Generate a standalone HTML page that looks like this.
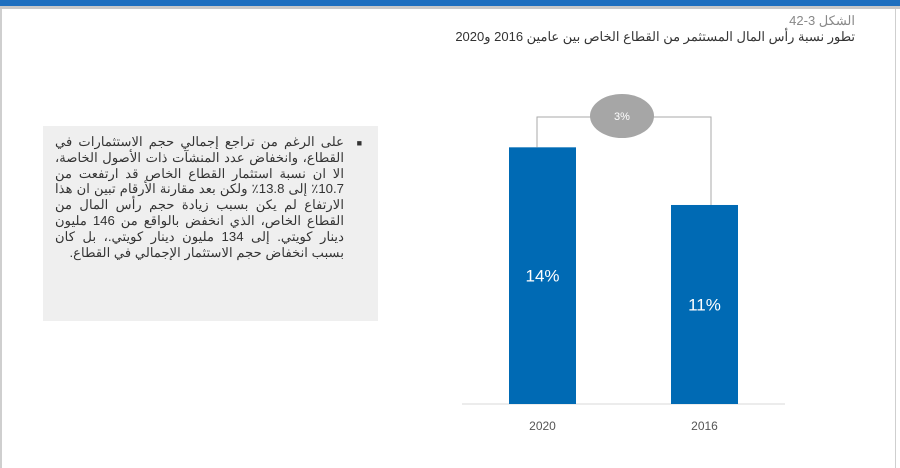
<!DOCTYPE html>
<html><head><meta charset="utf-8"><style>
body{margin:0;width:900px;height:468px;background:#fff;overflow:hidden;position:relative;font-family:"Liberation Sans","Noto Sans CJK SC",sans-serif}
.abs{position:absolute}
</style></head><body>
<div class="abs" style="left:0;top:0;width:900px;height:6px;background:#1e6fbf;border-bottom:3px solid #c8c8c8"></div>
<div class="abs" style="left:0;top:9px;width:2px;height:459px;background:#cfcfcf"></div>
<div class="abs" style="left:895px;top:9px;width:1px;height:459px;background:#cfcfcf"></div>
<div class="abs" dir="rtl" style="right:45px;top:13px;font-size:13px;color:#888">الشكل 3-42</div>
<div class="abs" dir="rtl" style="right:45px;top:29px;font-size:13px;color:#333">تطور نسبة رأس المال المستثمر من القطاع الخاص بين عامين 2016 و2020</div>
<div class="abs" dir="rtl" style="left:43px;top:126px;width:335px;height:195px;background:#efefef;box-sizing:border-box;padding:8px 14px 0 12px;font-size:13.2px;line-height:15.8px;color:#333;text-align:justify">
<span style="position:absolute;right:16px;top:10px;font-size:9px">■</span>
<div style="margin-right:20px">على الرغم من تراجع إجمالي حجم الاستثمارات في القطاع، وانخفاض عدد المنشآت ذات الأصول الخاصة، الا ان نسبة استثمار القطاع الخاص قد ارتفعت من 10.7٪ إلى 13.8٪ ولكن بعد مقارنة الأرقام تبين ان هذا الارتفاع لم يكن بسبب زيادة حجم رأس المال من القطاع الخاص، الذي انخفض بالواقع من 146 مليون دينار كويتي. إلى 134 مليون دينار كويتي.، بل كان بسبب انخفاض حجم الاستثمار الإجمالي في القطاع.</div>
</div>
<svg class="abs" style="left:0;top:0" width="900" height="468" id="chart"></svg>
<script>
const categories=["2020","2016"];
const values=[13.8,10.7];
const labels=["14%","11%"];
const changeLabel="3%";
const svg=document.getElementById('chart');
const NS='http://www.w3.org/2000/svg';
const baseY=404, pxPerUnit=18.6;
const y=v=>baseY-v*pxPerUnit;
const barX=i=>509+i*162, barW=67;
function mk(t,a){const e=document.createElementNS(NS,t);for(const k in a)e.setAttribute(k,a[k]);svg.appendChild(e);return e;}
const ax=mk('line',{x1:462,x2:785,y1:baseY,y2:baseY,stroke:'#d8d8d8','stroke-width':1});


const tops=[];
values.forEach((v,i)=>{
 const r=mk('rect',{x:barX(i),y:y(v),width:barW,height:baseY-y(v),fill:'#006ab4'});
 
 
 tops.push(y(v));
 const t=mk('text',{x:barX(i)+barW/2,y:(y(v)+baseY)/2+6,'text-anchor':'middle',fill:'#fff','font-size':17,'font-family':'Liberation Sans'});
 t.textContent=labels[i];
 
 
 const c=mk('text',{x:barX(i)+barW/2,y:430,'text-anchor':'middle',fill:'#555','font-size':12,'font-family':'Liberation Sans'});
 c.textContent=categories[i];
 
 
});
const bx1=537,bx2=711,by=117;
const br=mk('path',{d:`M${bx1} ${tops[0]}V${by}H${bx2}V${tops[1]}`,fill:'none',stroke:'#aaa','stroke-width':1});


const el=mk('ellipse',{cx:622,cy:116,rx:32,ry:22,fill:'#a6a6a6'});


const ct=mk('text',{x:622,y:120,'text-anchor':'middle',fill:'#fff','font-size':11,'font-family':'Liberation Sans'});
ct.textContent=changeLabel;


</script>
</body></html>
